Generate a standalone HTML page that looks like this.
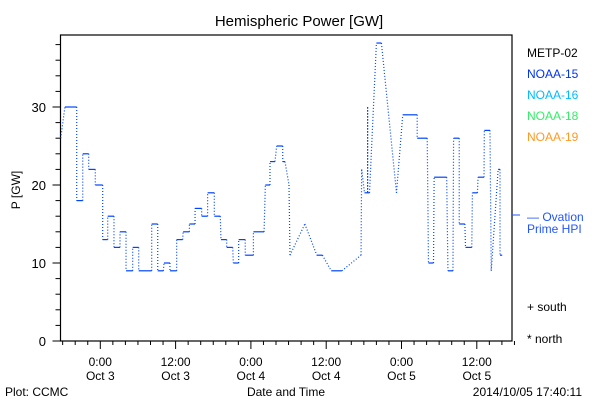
<!DOCTYPE html>
<html><head><meta charset="utf-8"><style>
body{margin:0;background:#fff}
svg{display:block;font-family:"Liberation Sans",sans-serif}
</style></head><body>
<svg width="600" height="400" viewBox="0 0 600 400">
<rect width="600" height="400" fill="#fff"/>
<text x="299" y="26" font-size="15" text-anchor="middle">Hemispheric Power [GW]</text>
<rect x="60.5" y="35" width="451.5" height="306" fill="none" stroke="#000" stroke-width="1.2"/>
<g id="yaxis"></g>
<g id="xaxis"></g>
<text transform="translate(20,190) rotate(-90)" font-size="12" text-anchor="middle">P [GW]</text>
<g id="series"></g>
<g font-size="12">
<text x="527" y="57" fill="#000">METP-02</text>
<text x="527" y="78" fill="#0033ee">NOAA-15</text>
<text x="527" y="99" fill="#00bbff">NOAA-16</text>
<text x="527" y="120" fill="#33ee66">NOAA-18</text>
<text x="527" y="141" fill="#ff9922">NOAA-19</text>
<line x1="512" y1="215" x2="520" y2="215" stroke="#2255ff"/>
<text x="527" y="221" fill="#2255ff">— Ovation</text>
<text x="527" y="233" fill="#2255ff">Prime HPI</text>
<text x="527" y="311" fill="#000">+ south</text>
<text x="527" y="343" fill="#000">* north</text>
</g>
<text x="5" y="396" font-size="12">Plot: CCMC</text>
<text x="286" y="396" font-size="12" text-anchor="middle">Date and Time</text>
<text x="582" y="396" font-size="12" text-anchor="end">2014/10/05 17:40:11</text>
</svg>
<script>
const times=[-6.3,-5.64,-3.76,-3.76,-2.8,-2.8,-1.85,-1.85,-0.8,-0.8,0.38,0.38,1.18,1.18,2.18,2.18,3.14,3.14,4.1,4.1,5.16,5.16,6.12,6.12,8.19,8.19,9.15,9.15,10.05,10.15,11.1,11.1,12.17,12.17,13.13,13.2,14.2,14.2,15.1,15.1,16.15,16.15,17.1,17.1,18.17,18.17,19.12,19.23,20.14,20.14,21.1,21.2,22.05,22.05,23.1,23.1,24.4,24.4,26.1,26.3,27.04,27.04,27.84,28.1,29.07,29.07,29.43,30.07,30.23,32.6,34.5,35.4,36.8,38.5,41.55,41.65,42.1,42.6,42.6,42.6,42.9,44.0,44.8,47.2,48.2,50.5,50.5,51.1,52.1,52.3,53.1,53.2,55.2,55.4,56.2,56.3,57.2,57.2,58.1,58.2,59.2,59.3,60.1,60.2,61.15,61.2,62.1,62.3,63.4,63.7,63.7,64.05];
const values=[26,30,30,18,18,24,24,22,22,20,20,13,13,16,16,12,12,14,14,9,9,12,12,9,9,15,15,9,9,10,10,9,9,13,13,14,14,15,15,17,17,16,16,19,19,16,16,13,13,12,12,10,10,13,13,11,11,14,14,20,20,23,23,25,25,23,23,20,11,15,11,11,9,9,11,22,19,19,30,19,19,38.2,38.2,19,29,29,26,26,26,10,10,21,21,9,9,26,26,15,15,12,12,19,19,21,21,27,27,9,22,22,11,11];
const yTicks=[0,10,20,30];
const xTickHours=[0,12,24,36,48,60];
const xTickLabels=[["0:00","Oct 3"],["12:00","Oct 3"],["0:00","Oct 4"],["12:00","Oct 4"],["0:00","Oct 5"],["12:00","Oct 5"]];
const NS="http://www.w3.org/2000/svg";
const X=h=>100.3+h*6.275;
const Y=v=>341-v*7.8;
function mk(tag,attrs,parent){const e=document.createElementNS(NS,tag);for(const k in attrs)e.setAttribute(k,attrs[k]);parent.appendChild(e);return e;}
const ya=document.getElementById('yaxis');
for(let v=0;v<=38;v+=2){const major=v%10===0;const l=mk('line',{x1:60.5-(major?8:5),x2:60.5,y1:Y(v),y2:Y(v),stroke:'#000'},ya);

}
yTicks.forEach(v=>{const t=mk('text',{x:46,y:Y(v)+5,'font-size':13,'text-anchor':'end'},ya);t.textContent=v;

});
const xa=document.getElementById('xaxis');
for(let h=-6;h<=66;h+=2){const major=h%12===0;const l=mk('line',{x1:X(h),x2:X(h),y1:341,y2:341+(major?8:4),stroke:'#000'},xa);

}
xTickHours.forEach((h,i)=>{xTickLabels[i].forEach((s,j)=>{const t=mk('text',{x:X(h),y:366+j*14,'font-size':12,'text-anchor':'middle'},xa);t.textContent=s;

});});
const sg=document.getElementById('series');
for(let i=1;i<times.length;i++){const flat=values[i]===values[i-1];
const l=mk('line',{x1:X(times[i-1]),y1:Y(values[i-1]),x2:X(times[i]),y2:Y(values[i]),stroke:'#0044ff','stroke-width':1.2},sg);
if(!flat)l.setAttribute('stroke-dasharray','1 2');

}
</script>
</body></html>
